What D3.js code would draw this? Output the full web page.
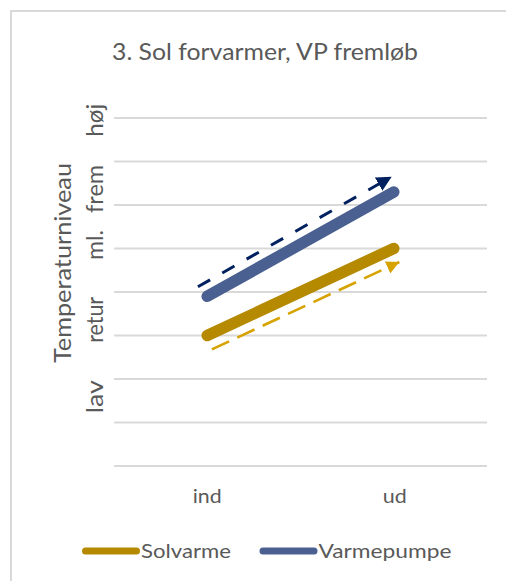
<!DOCTYPE html>
<html>
<head>
<meta charset="utf-8">
<script src="https://cdn.jsdelivr.net/npm/d3@7"></script>
<style>
  html, body { margin: 0; padding: 0; background: #fff; }
  svg { display: block; }
  text { font-family: Lato, "Open Sans", sans-serif; fill: #595959; }
</style>
</head>
<body>
<script>
// ---- data ----
const categories = ["ind", "ud"];
const seriesNames = ["Solvarme", "Varmepumpe"];
const solvarme = [3, 5];
const varmepumpe = [3.9, 6.3];
const gridValues = [0, 1, 2, 3, 4, 5, 6, 7, 8];
const levelLabels = ["lav", "retur", "ml.", "frem", "høj"];
const levelValues = [1.59, 3.36, 5.08, 6.37, 7.95];
const titleText = "3. Sol forvarmer, VP fremløb";
const yTitleText = "Temperaturniveau";
// arrow annotations: t = fraction between categories, v = value
const solArrowT = [0.025, 1.03];
const solArrowV = [2.68, 4.69];
const vpArrowT = [-0.05, 0.989];
const vpArrowV = [4.12, 6.65];

// ---- styles ----
const W = 506, H = 581;
const colSol = "#B58A00", colVP = "#4A6091";
const colSolArrow = "#D6A300", colVPArrow = "#002060";

const svg = d3.select("body").append("svg").attr("width", W).attr("height", H);

// chart frame
svg.append("rect").attr("x", 11).attr("y", 11).attr("width", 560).attr("height", 640)
  .attr("fill", "none").attr("stroke", "#d9d9d9").attr("stroke-width", 2);

const x = d3.scalePoint().domain(categories).range([114, 487]).padding(0.5);
const y = d3.scaleLinear().domain([0, 8]).range([466, 118]);
const xt = t => x(categories[0]) + t * (x(categories[1]) - x(categories[0]));

// gridlines
svg.append("g").selectAll("line").data(gridValues).join("line")
  .attr("x1", 114).attr("x2", 487)
  .attr("y1", d => y(d)).attr("y2", d => y(d))
  .attr("stroke", "#d9d9d9").attr("stroke-width", 2);

// title
svg.append("text").attr("x", 265).attr("y", 60).attr("text-anchor", "middle")
  .attr("font-size", 23).attr("textLength", 306).attr("lengthAdjust", "spacingAndGlyphs")
  .text(titleText);

// x axis labels
const xLabelW = {ind: 29, ud: 24};
svg.append("g").selectAll("text").data(categories).join("text")
  .attr("x", d => x(d) + (d === "ud" ? 1 : 0)).attr("y", 503).attr("text-anchor", "middle")
  .attr("font-size", 19)
  .attr("textLength", d => xLabelW[d]).attr("lengthAdjust", "spacingAndGlyphs")
  .text(d => d);

// y axis title (two lines)
svg.append("text").attr("transform", `translate(71,${263}) rotate(-90)`)
  .attr("text-anchor", "middle").attr("font-size", 23)
  .attr("textLength", 200).attr("lengthAdjust", "spacingAndGlyphs")
  .text(yTitleText);
const levelW = [33, 46, 30, 48, 33];
svg.append("g").selectAll("text").data(levelLabels).join("text")
  .attr("transform", (d, i) => `translate(103,${y(levelValues[i])}) rotate(-90)`)
  .attr("text-anchor", "middle").attr("font-size", 23)
  .attr("textLength", (d, i) => levelW[i]).attr("lengthAdjust", "spacingAndGlyphs")
  .text(d => d);

// arrow markers
const defs = svg.append("defs");
function marker(id, color, size) {
  defs.append("marker").attr("id", id)
    .attr("viewBox", "0 0 10 10").attr("refX", 10).attr("refY", 5)
    .attr("markerUnits", "userSpaceOnUse")
    .attr("markerWidth", size).attr("markerHeight", size)
    .attr("orient", "auto")
    .append("path").attr("d", "M0,0 L10,5 L0,10 Z").attr("fill", color);
}
marker("arrVP", colVPArrow, 15);
marker("arrSol", colSolArrow, 13);

const line = d3.line().x(d => d[0]).y(d => d[1]);

// dashed arrows
svg.append("path")
  .attr("d", line(vpArrowT.map((t, i) => [xt(t), y(vpArrowV[i])])))
  .attr("fill", "none").attr("stroke", colVPArrow).attr("stroke-width", 3)
  .attr("stroke-dasharray", "14,14").attr("marker-end", "url(#arrVP)");
svg.append("path")
  .attr("d", line(solArrowT.map((t, i) => [xt(t), y(solArrowV[i])])))
  .attr("fill", "none").attr("stroke", colSolArrow).attr("stroke-width", 2.6)
  .attr("stroke-dasharray", "19,9").attr("marker-end", "url(#arrSol)");

// series lines
const series = [
  {name: seriesNames[0], values: solvarme, color: colSol},
  {name: seriesNames[1], values: varmepumpe, color: colVP}
];
svg.append("g").selectAll("path").data(series).join("path")
  .attr("d", s => line(categories.map((c, i) => [x(c), y(s.values[i])])))
  .attr("fill", "none").attr("stroke", s => s.color)
  .attr("stroke-width", 11.5).attr("stroke-linecap", "round");

// legend
const legX = [85.5, 263];
const legW = [90, 133];
const leg = svg.append("g").selectAll("g").data(series).join("g")
  .attr("transform", (d, i) => `translate(${legX[i]},551)`);
leg.append("line").attr("x1", 0).attr("x2", 51).attr("y1", 0).attr("y2", 0)
  .attr("stroke", d => d.color).attr("stroke-width", 7).attr("stroke-linecap", "round");
leg.append("text").attr("x", 55.5).attr("y", 7).attr("font-size", 19)
  .attr("textLength", (d, i) => legW[i]).attr("lengthAdjust", "spacingAndGlyphs")
  .text(d => d.name);
</script>
</body>
</html>
